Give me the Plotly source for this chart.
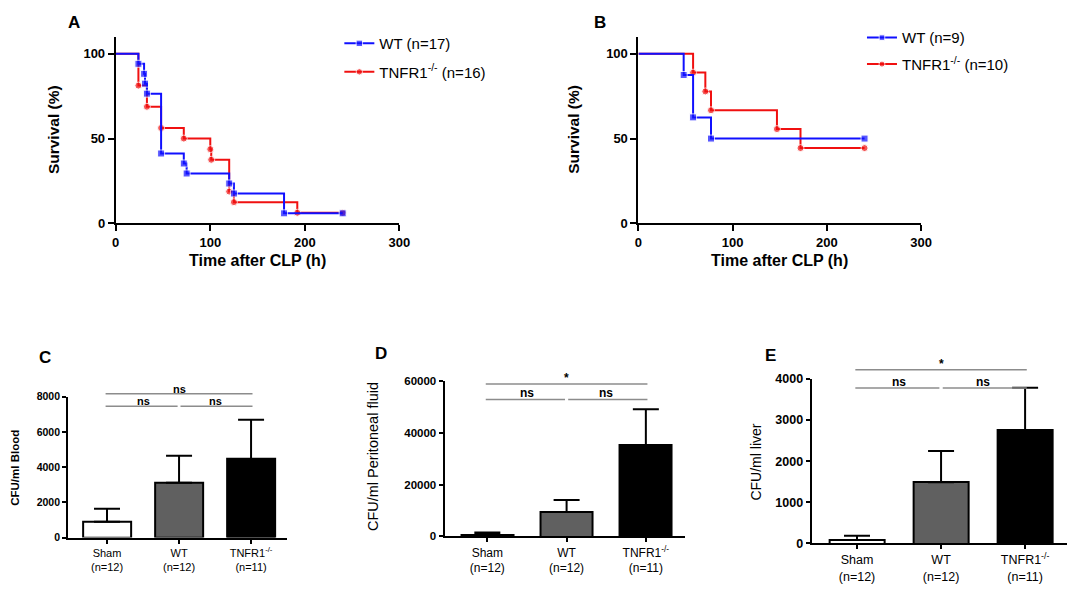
import plotly.graph_objects as go

# survival curves (Kaplan-Meier steps), time in h, survival in %
a_wt_time = [0, 24, 30, 31, 33, 48, 72, 75, 120, 125, 178, 240]
a_wt_surv = [100, 94.1, 88.2, 82.4, 76.5, 41.2, 35.3, 29.4, 23.5, 17.6, 5.9, 5.9]
a_tn_time = [0, 24, 33, 48, 72, 100, 101, 120, 125, 192, 240]
a_tn_surv = [100, 81.25, 68.75, 56.25, 50.0, 43.75, 37.5, 18.75, 12.5, 6.25, 6.25]

b_wt_time = [0, 48, 58, 77, 240]
b_wt_surv = [100, 87.5, 62.5, 50, 50]
b_tn_time = [0, 58, 71, 77, 147, 172, 240]
b_tn_surv = [100, 88.9, 77.8, 66.7, 55.6, 44.4, 44.4]

# bacterial load bars (mean, +SD)
groups = ['Sham<br>(n=12)', 'WT<br>(n=12)', 'TNFR1<sup>-/-</sup><br>(n=11)']
blood_mean = [905, 3115, 4460]
blood_sd = [735, 1530, 2230]
perit_mean = [750, 9400, 35200]
perit_sd = [750, 4630, 13900]
liver_mean = [87, 1490, 2756]
liver_sd = [103, 760, 1030]

# significance brackets: (group a, group b, level, label)
blood_sig = [(0, 1, 7460, 'ns'), (1, 2, 7460, 'ns'), (0, 2, 8180, 'ns')]
perit_sig = [(0, 1, 52860, 'ns'), (1, 2, 52860, 'ns'), (0, 2, 58760, '*')]
liver_sig = [(0, 1, 3780, 'ns'), (1, 2, 3780, 'ns'), (0, 2, 4222, '*')]

BLUE = '#1010FF'
RED = '#F01010'
FONT = 'Liberation Sans, Arial, sans-serif'
W, H = 1084, 589

fig = go.Figure()


def km(t, s, color, symbol, name, xa, ya, leg, grp, rank):
    fig.add_trace(go.Scatter(
        x=t, y=s, mode='lines+markers', name=name,
        line=dict(shape='hv', color=color, width=2),
        marker=dict(symbol=symbol, color=color, size=[0] + [7] * (len(t) - 1)),
        xaxis=xa, yaxis=ya, legend=leg, legendgroup=grp, legendrank=rank,
        hoverinfo='skip'))


# knockout drawn first so the WT curve sits on top where they overlap
km(a_tn_time, a_tn_surv, RED, 'circle', 'TNFR1<sup>-/-</sup> (n=16)', 'x', 'y', 'legend', 'a2', 2)
km(a_wt_time, a_wt_surv, BLUE, 'square', 'WT (n=17)', 'x', 'y', 'legend', 'a1', 1)
km(b_tn_time, b_tn_surv, RED, 'circle', 'TNFR1<sup>-/-</sup> (n=10)', 'x2', 'y2', 'legend2', 'b2', 2)
km(b_wt_time, b_wt_surv, BLUE, 'square', 'WT (n=9)', 'x2', 'y2', 'legend2', 'b1', 1)

shapes = []
annotations = []


def bar_panel(mean, sd, sig, ymax, n, fsize):
    xa, ya = 'x%d' % n, 'y%d' % n
    fig.add_trace(go.Bar(
        x=[0, 1, 2], y=mean, width=0.66, showlegend=False, hoverinfo='skip',
        marker=dict(color=['white', '#606060', 'black'], line=dict(color='black', width=2)),
        error_y=dict(type='data', symmetric=False, array=sd, arrayminus=[0, 0, 0],
                     color='black', thickness=2, width=13),
        xaxis=xa, yaxis=ya))
    for a, b, level, label in sig:
        x0 = a - 0.02 + (0.04 if a == 1 else 0)
        x1 = b + 0.02 - (0.04 if b == 1 else 0)
        shapes.append(dict(type='line', xref=xa, yref=ya + ' domain', x0=x0, x1=x1,
                           y0=level / ymax, y1=level / ymax,
                           line=dict(color='#8c8c8c', width=1.5)))
        annotations.append(dict(xref=xa, yref=ya + ' domain', x=(a + b) / 2, y=level / ymax,
                                text='<b>%s</b>' % label, showarrow=False, yanchor='bottom',
                                yshift=-3, font=dict(size=fsize, color='black', family=FONT)))


bar_panel(blood_mean, blood_sd, blood_sig, 8000, 3, 11)
bar_panel(perit_mean, perit_sd, perit_sig, 60000, 4, 12)
bar_panel(liver_mean, liver_sd, liver_sig, 4000, 5, 12)


def label(text, px, py, size, bold=True, angle=0):
    annotations.append(dict(xref='paper', yref='paper', x=px / W, y=1 - py / H,
                            text='<b>%s</b>' % text if bold else text, showarrow=False,
                            textangle=angle, xanchor='center', yanchor='middle',
                            font=dict(size=size, color='black', family=FONT)))


label('A', 71, 16, 17)
label('B', 604, 16, 17)
label('C', 42, 360, 17)
label('D', 382, 356, 17)
label('E', 777, 358, 17)
label('Survival (%)', 50, 126, 15.5, angle=-90)
label('Time after CLP (h)', 257, 260, 16)
label('Survival (%)', 578, 126, 15.5, angle=-90)
label('Time after CLP (h)', 786, 260, 16)
label('CFU/ml Blood', 11, 473, 11.5, angle=-90)
label('CFU/ml Peritoneal fluid', 374, 461, 14.5, bold=False, angle=-90)
label('CFU/ml liver', 763, 467, 14, bold=False, angle=-90)

axis_common = dict(showline=True, linecolor='black', linewidth=2, ticks='outside',
                   tickcolor='black', tickwidth=2, showgrid=False, zeroline=False,
                   fixedrange=True)


def surv_axes(xdom, n):
    xs = '' if n == 1 else str(n)
    fig.update_layout({
        'xaxis' + xs: dict(axis_common, domain=xdom, range=[0, 300], tickvals=[0, 100, 200, 300],
                           ticklen=6, anchor='y' + xs,
                           tickfont=dict(size=13, family=FONT, color='black', weight='bold')),
        'yaxis' + xs: dict(axis_common, domain=[0.6231, 0.9480], range=[0, 110],
                           tickvals=[0, 50, 100], ticklen=6, anchor='x' + xs,
                           tickfont=dict(size=13, family=FONT, color='black', weight='bold')),
    })


surv_axes([0.1045, 0.3699], 1)
surv_axes([0.5935, 0.8579], 2)


def bar_axes(n, xdom, ydom, ymax, dtick, tsize, csize):
    fig.update_layout({
        'xaxis%d' % n: dict(axis_common, domain=xdom, range=[-0.54, 2.5], tickvals=[0, 1, 2],
                            ticktext=groups, ticklen=4, anchor='y%d' % n,
                            tickfont=dict(size=csize, family=FONT, color='black')),
        'yaxis%d' % n: dict(axis_common, domain=ydom, range=[0, ymax], dtick=dtick, tick0=0,
                            ticklen=4, anchor='x%d' % n, tickformat='d',
                            tickfont=dict(size=tsize, family=FONT, color='black', weight='bold')),
    })


bar_axes(3, [0.0600, 0.2648], [0.0756, 0.3209], 8000, 2000, 10.5, 11)
bar_axes(4, [0.4121, 0.6375], [0.0776, 0.3486], 60000, 20000, 11.5, 12)
bar_axes(5, [0.7555, 0.9945], [0.0654, 0.3520], 4000, 1000, 12.5, 12.5)

fig.update_layout(
    width=W, height=H, margin=dict(l=0, r=0, t=0, b=0),
    paper_bgcolor='white', plot_bgcolor='white',
    font=dict(family=FONT, color='black'),
    shapes=shapes, annotations=annotations,
    legend=dict(x=0.3137, y=0.965, xanchor='left', yanchor='top', bgcolor='rgba(0,0,0,0)',
                traceorder='grouped', tracegroupgap=6, font=dict(size=15, family=FONT)),
    legend2=dict(x=0.8026, y=0.975, xanchor='left', yanchor='top', bgcolor='rgba(0,0,0,0)',
                 traceorder='grouped', tracegroupgap=4, font=dict(size=15, family=FONT)),
    bargap=0,
)

# the page body has a default margin; drop it so the figure sits at the window origin
fig.write_html("out.html", config={'displayModeBar': False},
               post_script="document.body.style.margin = '0';")
